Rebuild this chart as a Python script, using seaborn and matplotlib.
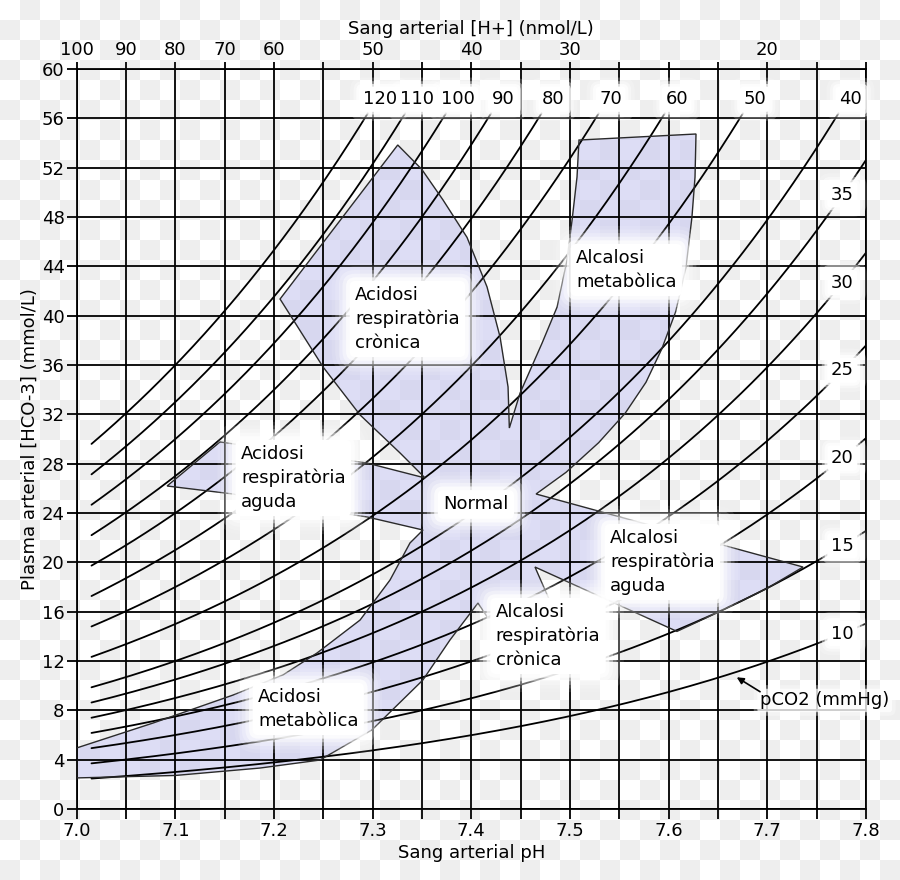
import numpy as np
import pandas as pd
import matplotlib
matplotlib.use("Agg")
import matplotlib.pyplot as plt
import seaborn as sns

# ---------------- data ----------------
pco2_levels = [10, 15, 20, 25, 30, 35, 40, 50, 60, 70, 80, 90, 100, 110, 120]
PK, SOL = 6.1, 0.03            # Henderson-Hasselbalch constants
PH_START, PH_MAX, HCO3_CAP = 7.015, 7.8, 56.4

ph_ticks = [7.0, 7.05, 7.1, 7.15, 7.2, 7.25, 7.3, 7.35, 7.4, 7.45, 7.5, 7.55,
            7.6, 7.65, 7.7, 7.75, 7.8]
ph_tick_labels = ["7.0", "", "7.1", "", "7.2", "", "7.3", "", "7.4", "", "7.5", "",
                  "7.6", "", "7.7", "", "7.8"]
hplus_labels = ["100", "90", "80", "70", "60", "", "50", "", "40", "", "30", "",
                "", "", "20", "", ""]
hco3_ticks = [0, 4, 8, 12, 16, 20, 24, 28, 32, 36, 40, 44, 48, 52, 56, 60]

# outline of the shaded acid-base zones (pH, HCO3)
region_ph = [7.3254, 7.3497, 7.3713, 7.3956, 7.4159, 7.4291, 7.4372, 7.4385,
             7.4494, 7.4717, 7.4869, 7.4970, 7.5021, 7.5071, 7.5091,
             7.6277, 7.6267, 7.6236, 7.6176, 7.6070, 7.5930, 7.5770, 7.5560,
             7.5290, 7.4960, 7.4656,
             7.7362, 7.70, 7.65, 7.6084,
             7.4645, 7.4827, 7.4168, 7.4067,
             7.3783, 7.3509, 7.2992, 7.2465, 7.1857, 7.10, 7.0,
             7.0, 7.0774, 7.1585, 7.2091, 7.2436, 7.2872, 7.3176, 7.3378, 7.3510,
             7.2943, 7.2335, 7.1585, 7.0916,
             7.1452, 7.2943, 7.3531,
             7.3277, 7.2872, 7.2497, 7.2061]
region_hco3 = [53.84, 51.87, 49.38, 46.35, 42.33, 38.27, 34.22, 30.89,
               33.73, 37.78, 40.70, 44.51, 47.76, 51.24, 54.24,
               54.73, 51.24, 48.00, 43.95, 40.30, 37.30, 34.60, 32.10,
               29.70, 27.30, 25.54,
               19.62, 17.90, 15.95, 14.40,
               19.62, 16.30, 15.49, 16.70,
               13.70, 10.46, 6.41, 3.97, 3.32, 2.72, 2.52,
               4.95, 6.97, 9.24, 10.87, 12.65, 15.32, 18.57, 21.57, 22.62,
               23.68, 24.41, 25.54, 26.19,
               29.76, 28.05, 26.84,
               28.87, 31.95, 35.84, 41.35]

zone_names = ["Acidosi\nrespiratòria\ncrònica", "Alcalosi\nmetabòlica",
              "Acidosi\nrespiratòria\naguda", "Normal",
              "Alcalosi\nrespiratòria\naguda", "Alcalosi\nrespiratòria\ncrònica",
              "Acidosi\nmetabòlica"]
zone_ph = [7.2822, 7.5061, 7.1665, 7.3715, 7.5406, 7.4247, 7.1838]
zone_hco3 = [39.73, 43.70, 26.84, 24.69, 20.03, 14.03, 8.11]

# ---------------- figure ----------------
sns.set_theme(style="white")
plt.rcParams["font.family"] = ["DejaVu Sans"]
for k in ["text.color", "axes.labelcolor", "xtick.color", "ytick.color"]:
    plt.rcParams[k] = "black"

W, H = 900, 880
fig = plt.figure(figsize=(W / 100, H / 100), dpi=100)
fig.patch.set_facecolor("white")

# transparency checkerboard background
yy, xx = np.mgrid[0:H, 0:W]
chk = ((yy // 20 + xx // 20) % 2).astype(float)
bg = np.ones((H, W, 3))
bg[chk == 1] = 0.935
fig.figimage(bg, xo=0, yo=0, origin="upper", zorder=-10)

ax = fig.add_axes([76.7 / W, 1 - 809 / H, (866 - 76.7) / W, (809 - 69) / H])
ax.set_zorder(1)
ax.set_facecolor("none")
ax.patch.set_alpha(0)
ax.set_xlim(7.0, 7.8)
ax.set_ylim(0, 60)

# shaded zones
ax.fill(region_ph, region_hco3, facecolor=(0.79, 0.79, 0.94, 0.62),
        edgecolor="none", zorder=1)
ax.fill(region_ph, region_hco3, facecolor="none", edgecolor="#2a2a2a",
        lw=1.0, zorder=3)

# isobars
rows = []
for p in pco2_levels:
    end = min(PH_MAX, PK + np.log10(HCO3_CAP / (SOL * p)))
    ph = np.linspace(PH_START, end, 150)
    rows.append(pd.DataFrame({"pH": ph, "HCO3": SOL * p * 10 ** (ph - PK), "pCO2": p}))
iso = pd.concat(rows, ignore_index=True)
sns.lineplot(data=iso, x="pH", y="HCO3", units="pCO2", estimator=None,
             color="black", lw=1.3, sort=False, legend=False, ax=ax, zorder=2)


def glow(x, y, s, size=13, ha="left", va="center",
         pads=(1.3, 1.1, 0.9, 0.7, 0.5, 0.3),
         alphas=(0.10, 0.16, 0.25, 0.4, 0.7, 1.0), **kw):
    for pad, a in zip(pads, alphas):
        ax.text(x, y, s, fontsize=size, ha=ha, va=va, color=(0, 0, 0, 0),
                bbox=dict(boxstyle=f"round,pad={pad}", fc=(1, 1, 1, a), ec="none"),
                zorder=8, **kw)
    ax.text(x, y, s, fontsize=size, ha=ha, va=va, color="black", zorder=12, **kw)


# isobar labels
for p in pco2_levels:
    if p >= 40:
        x = PK + np.log10(58.0 / (SOL * p))
        y = 57.55
    else:
        x = 7.776
        y = SOL * p * 10 ** (x - PK)
    glow(x, y, str(p), ha="center", pads=(0.7, 0.5, 0.35, 0.2),
         alphas=(0.2, 0.4, 0.7, 1.0))

# zone labels
for name, x, y in zip(zone_names, zone_ph, zone_hco3):
    glow(x, y, name, linespacing=1.38)

# pCO2 legend note
ax.annotate("", xy=(7.669, 10.68), xytext=(7.6926, 9.51),
            arrowprops=dict(arrowstyle="-|>", color="black", lw=1.2,
                            mutation_scale=10, shrinkA=0, shrinkB=0), zorder=12)
glow(7.6926, 8.80, "pCO2 (mmHg)", pads=(0.35, 0.15), alphas=(0.3, 0.7))

# axes, grid, ticks
ax.set_xticks(ph_ticks)
ax.set_xticklabels(ph_tick_labels)
ax.set_yticks(hco3_ticks)
ax.set_axisbelow("line")
ax.grid(True, color="black", lw=1.3)
for s in ax.spines.values():
    s.set_visible(True)
    s.set_color("black")
    s.set_linewidth(1.3)
ax.tick_params(axis="x", bottom=True, direction="out", length=7.2, width=1.3,
               pad=2, labelsize=13)
ax.tick_params(axis="y", left=True, direction="out", length=7.2, width=1.3,
               pad=1.5, labelsize=13)
ax.set_xlabel("Sang arterial pH", fontsize=13, labelpad=3)
ax.set_ylabel("Plasma arterial [HCO-3] (mmol/L)", fontsize=13, labelpad=2)

ax2 = ax.twiny()
ax2.set_xlim(ax.get_xlim())
ax2.set_xticks(ph_ticks)
ax2.set_xticklabels(hplus_labels)
ax2.tick_params(axis="x", top=True, direction="out", length=5, width=1.3,
                pad=2, labelsize=13)
ax2.set_facecolor("none")
ax2.patch.set_alpha(0)
for s in ax2.spines.values():
    s.set_visible(False)
ax2.set_xlabel("Sang arterial [H+] (nmol/L)", fontsize=13, labelpad=5)

fig.savefig("out.png", dpi=100)
